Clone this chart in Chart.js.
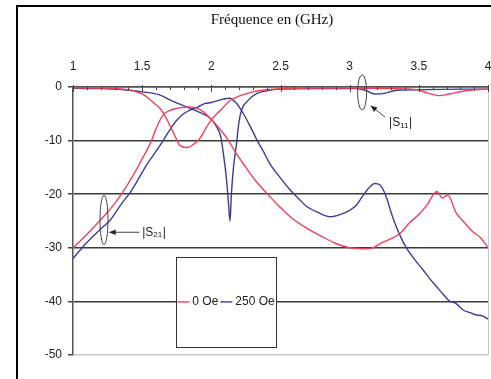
<!DOCTYPE html>
<html>
<head>
<meta charset="utf-8">
<title>S11 / S21 - 0 Oe et 250 Oe</title>
<script src="https://cdn.jsdelivr.net/npm/chart.js@4.4.1/dist/chart.umd.min.js"></script>
<style>
  body { margin: 0; background: #fff; }
</style>
</head>
<body>
<canvas id="myChart" width="491" height="379"></canvas>
<script>
// values: frequency in GHz, level in dB
let s11_0_f  = [1.0, 1.1, 1.2, 1.3, 1.4, 1.46, 1.5, 1.55, 1.6, 1.63, 1.67, 1.71, 1.74, 1.77, 1.83, 1.87, 1.917, 1.96, 1.99, 2.04, 2.08, 2.13, 2.2, 2.3, 2.4, 2.5, 2.7, 3.0, 3.3, 3.48, 3.56, 3.65, 3.72, 3.84, 3.92, 4.0];
let s11_0_db = [-0.1, -0.2, -0.2, -0.3, -0.5, -0.9, -1.3, -2.2, -3.3, -4.0, -5.6, -7.7, -9.3, -10.8, -11.3, -10.7, -9.6, -7.7, -6.5, -5.0, -4.0, -2.6, -1.7, -0.9, -0.5, -0.3, -0.2, -0.2, -0.3, -0.5, -1.1, -1.6, -1.3, -0.7, -0.5, -0.4];

let s21_0_f  = [1.0, 1.1, 1.22, 1.3, 1.35, 1.4, 1.45, 1.5, 1.53, 1.568, 1.6, 1.652, 1.7, 1.75, 1.8, 1.845, 1.9, 1.94, 2.0, 2.06, 2.12, 2.18, 2.25, 2.32, 2.4, 2.48, 2.57, 2.68, 2.8, 2.9, 3.0, 3.1, 3.17, 3.22, 3.3, 3.37, 3.43, 3.5, 3.56, 3.63, 3.67, 3.71, 3.77, 3.83, 3.89, 3.95, 4.0];
let s21_0_db = [-30, -27.5, -24.2, -21.8, -20, -18.0, -15.8, -13.4, -12, -10, -7.8, -5.2, -4.4, -4.0, -3.8, -3.7, -4.0, -4.6, -6.0, -7.8, -9.8, -12.4, -15, -17.5, -19.8, -22, -24.2, -26.2, -27.9, -29.2, -30, -30.2, -30, -29.2, -28.3, -27.2, -25.4, -23.8, -22, -19.5, -20.7, -20.2, -23.5, -25.3, -27, -28.2, -30];

let s11_250_f  = [1.0, 1.1, 1.2, 1.3, 1.4, 1.5, 1.63, 1.7, 1.82, 1.92, 1.99, 2.04, 2.07, 2.09, 2.11, 2.125, 2.135, 2.145, 2.16, 2.18, 2.2, 2.22, 2.27, 2.33, 2.4, 2.5, 2.8, 3.05, 3.12, 3.18, 3.25, 3.32, 3.5, 3.8, 4.0];
let s11_250_db = [-0.2, -0.3, -0.3, -0.4, -0.6, -0.9, -1.5, -2.4, -3.7, -4.8, -5.8, -7.5, -9.5, -13, -17.3, -22, -25, -20, -15, -11, -6.5, -4.2, -2.4, -1.2, -0.7, -0.4, -0.3, -0.3, -0.7, -1.3, -1.2, -0.7, -0.5, -0.4, -0.4];

let s21_250_f  = [1.0, 1.1, 1.2, 1.27, 1.35, 1.41, 1.47, 1.53, 1.6, 1.652, 1.7, 1.75, 1.8, 1.845, 1.905, 1.95, 2.0, 2.08, 2.13, 2.18, 2.23, 2.28, 2.33, 2.38, 2.42, 2.5, 2.57, 2.63, 2.69, 2.78, 2.86, 2.93, 3.0, 3.05, 3.09, 3.14, 3.18, 3.22, 3.26, 3.31, 3.36, 3.41, 3.47, 3.53, 3.58, 3.63, 3.68, 3.72, 3.77, 3.82, 3.87, 3.91, 3.96, 4.0];
let s21_250_db = [-32, -29, -26.5, -24.8, -21.8, -19.8, -17.3, -14.6, -12, -10, -8.0, -6.2, -5.0, -4.3, -3.7, -3.1, -2.9, -2.3, -2.1, -3.0, -4.9, -7.3, -9.9, -12.2, -14.2, -17, -19.2, -20.8, -22.3, -23.5, -24.2, -23.8, -23, -22, -20.5, -18.8, -18, -18.3, -20.2, -24.2, -27.5, -30, -32.2, -34.1, -35.8, -37.3, -38.8, -39.9, -40.4, -41.6, -42.1, -42.5, -42.7, -43.3];

let seriesLabels = ['0 Oe', '250 Oe'];
let seriesColors = ['#f2405a', '#3c3c9c'];

let xTicks = [1, 1.5, 2, 2.5, 3, 3.5, 4];
let yTicks = [0, -10, -20, -30, -40, -50];

function pts(f, db) {
    return f.map((v, i) => ({x: v, y: db[i]}));
}

let narrow = "'Liberation Sans Narrow', 'Liberation Sans', Arial, sans-serif";
Chart.defaults.font.family = narrow;
Chart.defaults.font.size = 12;
Chart.defaults.color = '#222';

function subLabel(c, sub, x, y) {
    c.font = "12px " + narrow;
    c.textBaseline = 'middle';
    c.textAlign = 'left';
    c.fillText('|S', x, y);
    let w = c.measureText('|S').width;
    c.font = "8px " + narrow;
    c.fillText(sub, x + w, y + 3);
    let w2 = c.measureText(sub).width;
    c.font = "12px " + narrow;
    c.fillText('|', x + w + w2 + 0.5, y);
}

function arrow(c, x1, y1, x2, y2) {
    c.beginPath();
    c.moveTo(x1, y1);
    c.lineTo(x2, y2);
    c.stroke();
    let ang = Math.atan2(y2 - y1, x2 - x1);
    c.beginPath();
    c.moveTo(x2, y2);
    c.lineTo(x2 - 7 * Math.cos(ang - 0.4), y2 - 7 * Math.sin(ang - 0.4));
    c.lineTo(x2 - 7 * Math.cos(ang + 0.4), y2 - 7 * Math.sin(ang + 0.4));
    c.closePath();
    c.fill();
}

const decor = {
    id: 'decor',
    beforeDraw(chart) {
        let c = chart.ctx;
        c.save();
        c.fillStyle = '#fff';
        c.fillRect(0, 0, chart.width, chart.height);
        c.restore();
    },
    afterDraw(chart) {
        let c = chart.ctx, sx = chart.scales.x, sy = chart.scales.y, a = chart.chartArea;
        c.save();

        // outer frame
        c.strokeStyle = '#000';
        c.lineWidth = 2;
        c.beginPath();
        c.moveTo(17, chart.height);
        c.lineTo(17, 6);
        c.lineTo(chart.width, 6);
        c.stroke();

        // title
        c.fillStyle = '#111';
        c.font = "15px 'Liberation Serif', 'Times New Roman', serif";
        c.textAlign = 'center';
        c.textBaseline = 'middle';
        c.fillText('Fréquence en (GHz)', 272, 20);

        // tick marks crossing the top axis
        c.strokeStyle = '#444';
        c.lineWidth = 1;
        for (let v = 1; v <= 4.001; v += 0.1) {
            let px = Math.round(sx.getPixelForValue(v)) + 0.5;
            let major = Math.abs(v * 2 - Math.round(v * 2)) < 0.01;
            c.beginPath();
            c.moveTo(px, a.top - (major ? 2 : 0));
            c.lineTo(px, a.top + (major ? 5 : 3));
            c.stroke();
        }

        // ellipses and arrows
        c.strokeStyle = '#444';
        c.fillStyle = '#222';
        c.lineWidth = 1;
        c.beginPath();
        c.ellipse(sx.getPixelForValue(1.224), sy.getPixelForValue(-24.8), 4, sy.getPixelForValue(-24.8) - sy.getPixelForValue(-20.2), 0, 0, Math.PI * 2);
        c.stroke();
        c.beginPath();
        c.ellipse(sx.getPixelForValue(3.09), sy.getPixelForValue(-1.0), 4.5, sy.getPixelForValue(-1.0) - sy.getPixelForValue(2.3), 0, 0, Math.PI * 2);
        c.stroke();

        arrow(c, sx.getPixelForValue(1.48), sy.getPixelForValue(-27.1), sx.getPixelForValue(1.262), sy.getPixelForValue(-27.1));
        arrow(c, sx.getPixelForValue(3.255), sy.getPixelForValue(-5.6), sx.getPixelForValue(3.152), sy.getPixelForValue(-3.5));

        subLabel(c, '21', sx.getPixelForValue(1.5), sy.getPixelForValue(-27.1));
        subLabel(c, '11', sx.getPixelForValue(3.285), sy.getPixelForValue(-6.6));

        // legend box
        let bx = a.left + (a.right - a.left) * 0.249;
        let by = a.top + (a.bottom - a.top) * 0.634;
        let bw = 100, bh = 90;
        c.fillStyle = '#fff';
        c.fillRect(bx, by, bw, bh);
        c.strokeStyle = '#333';
        c.lineWidth = 1;
        c.strokeRect(Math.round(bx) + 0.5, Math.round(by) + 0.5, bw, bh);

        let ly = by + bh / 2;
        let lx = bx + 1;
        c.font = "12px " + narrow;
        c.textBaseline = 'middle';
        c.textAlign = 'left';
        seriesLabels.forEach((lab, i) => {
            c.strokeStyle = seriesColors[i];
            c.lineWidth = 1.4;
            c.beginPath();
            c.moveTo(lx, ly);
            c.lineTo(lx + 12, ly);
            c.stroke();
            c.fillStyle = '#222';
            c.fillText(lab, lx + 15, ly);
            lx += 15 + c.measureText(lab).width + 2;
        });

        c.restore();
    }
};

let lineStyle = {
    borderWidth: 1.4,
    pointRadius: 0,
    fill: false,
    cubicInterpolationMode: 'monotone'
};

var ctx = document.getElementById('myChart').getContext('2d');
var myChart = new Chart(ctx, {
    type: 'line',
    data: {
        datasets: [
            Object.assign({label: seriesLabels[0] + ' S11', data: pts(s11_0_f, s11_0_db), borderColor: seriesColors[0]}, lineStyle),
            Object.assign({label: seriesLabels[0] + ' S21', data: pts(s21_0_f, s21_0_db), borderColor: seriesColors[0]}, lineStyle),
            Object.assign({label: seriesLabels[1] + ' S11', data: pts(s11_250_f, s11_250_db), borderColor: seriesColors[1]}, lineStyle),
            Object.assign({label: seriesLabels[1] + ' S21', data: pts(s21_250_f, s21_250_db), borderColor: seriesColors[1]}, lineStyle)
        ]
    },
    options: {
        responsive: false,
        animation: false,
        devicePixelRatio: 1,
        layout: {padding: {left: 17, top: 0, right: 3, bottom: 24}},
        plugins: {
            legend: {display: false},
            tooltip: {enabled: false}
        },
        scales: {
            x: {
                type: 'linear',
                position: 'top',
                min: 1,
                max: 4,
                afterBuildTicks: s => { s.ticks = xTicks.map(v => ({value: v})); },
                afterFit: s => { s.height = 87; s.paddingLeft = 0; s.paddingRight = 0; },
                ticks: {padding: 13, maxRotation: 0, color: '#222', font: {size: 12}, callback: v => String(v)},
                grid: {
                    drawTicks: false,
                    lineWidth: 1,
                    color: c => c.tick && c.tick.value === 4 ? '#c8c8c8' : 'rgba(0,0,0,0)'
                },
                border: {display: true, color: '#555', width: 1.5}
            },
            y: {
                min: -50,
                max: 0,
                afterBuildTicks: s => { s.ticks = yTicks.map(v => ({value: v})); },
                afterFit: s => { s.width = 56; s.paddingTop = 0; s.paddingBottom = 0; },
                ticks: {padding: 6, color: '#222', font: {size: 12}, callback: v => String(v)},
                grid: {
                    tickLength: 5,
                    tickColor: '#444',
                    lineWidth: 1.5,
                    color: c => c.tick && c.tick.value === -50 ? '#c8c8c8' : '#3a3a3a'
                },
                border: {display: true, color: '#555', width: 1.5}
            }
        }
    },
    plugins: [decor]
});
</script>
</body>
</html>
